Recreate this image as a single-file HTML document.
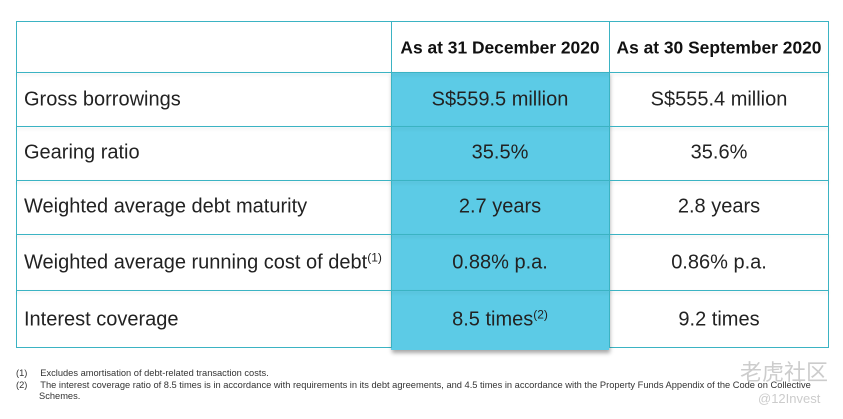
<!DOCTYPE html>
<html><head><meta charset="utf-8"><style>
body{margin:0;width:843px;height:419px;background:#fff;font-family:"Liberation Sans",sans-serif;position:relative;overflow:hidden}
.t{position:absolute;left:16px;top:21px;width:813px;height:327px;border:1px solid #3bb3c3;box-sizing:border-box}
.hl{position:absolute;left:391px;top:72px;width:218px;height:278px;background:#5ccbe6;box-shadow:1px 3px 4px rgba(0,0,0,.35)}
.h{position:absolute;height:1px;left:16px;width:813px;background:#3bb3c3;box-shadow:0 2px 3px rgba(0,0,0,.12)}
.v{position:absolute;width:1px;background:#3bb3c3;top:21px;height:327px}
.c{position:absolute;font-size:20px;color:#222;white-space:nowrap;transform:translateY(-50%)}
.m{text-align:center;width:218px}
.hd{font-weight:bold;font-size:17.4px;color:#111}
sup{font-size:12px;vertical-align:7px;line-height:0}
.fn{position:absolute;font-size:9.3px;color:#333;white-space:nowrap}
.wm{position:absolute;color:#ccc;font-family:"Liberation Sans","Noto Sans CJK SC",sans-serif}
</style></head><body>
<div class="t"></div>
<div class="hl"></div>
<div class="h" style="top:72px"></div>
<div class="h" style="top:126px"></div>
<div class="h" style="top:180px"></div>
<div class="h" style="top:234px"></div>
<div class="h" style="top:290px"></div>
<div class="v" style="left:391px"></div>
<div class="v" style="left:609px"></div>
<div class="c hd m" style="left:391px;top:48px">As at 31 December 2020</div>
<div class="c hd m" style="left:609px;top:48px;width:220px">As at 30 September 2020</div>
<div class="c" style="left:24px;top:100px">Gross borrowings</div>
<div class="c m" style="left:391px;top:100px">S$559.5 million</div>
<div class="c m" style="left:609px;top:100px;width:220px">S$555.4 million</div>
<div class="c" style="left:24px;top:153px">Gearing ratio</div>
<div class="c m" style="left:391px;top:153px">35.5%</div>
<div class="c m" style="left:609px;top:153px;width:220px">35.6%</div>
<div class="c" style="left:24px;top:207px">Weighted average debt maturity</div>
<div class="c m" style="left:391px;top:207px">2.7 years</div>
<div class="c m" style="left:609px;top:207px;width:220px">2.8 years</div>
<div class="c" style="left:24px;top:263px">Weighted average running cost of debt<sup>(1)</sup></div>
<div class="c m" style="left:391px;top:263px">0.88% p.a.</div>
<div class="c m" style="left:609px;top:263px;width:220px">0.86% p.a.</div>
<div class="c" style="left:24px;top:320px">Interest coverage</div>
<div class="c m" style="left:391px;top:320px">8.5 times<sup>(2)</sup></div>
<div class="c m" style="left:609px;top:320px;width:220px">9.2 times</div>
<div class="fn" style="left:16px;top:368px">(1)&nbsp;&nbsp;&nbsp;&nbsp;&nbsp;Excludes amortisation of debt-related transaction costs.</div>
<div class="fn" style="left:16px;top:380px">(2)&nbsp;&nbsp;&nbsp;&nbsp;&nbsp;The interest coverage ratio of 8.5 times is in accordance with requirements in its debt agreements, and 4.5 times in accordance with the Property Funds Appendix of the Code on Collective</div>
<div class="fn" style="left:39px;top:391px">Schemes.</div>
<div class="wm" style="left:740px;top:355px;font-size:22px">老虎社区</div>
<div class="wm" style="left:758px;top:391px;font-size:13px">@12Invest</div>
</body></html>
